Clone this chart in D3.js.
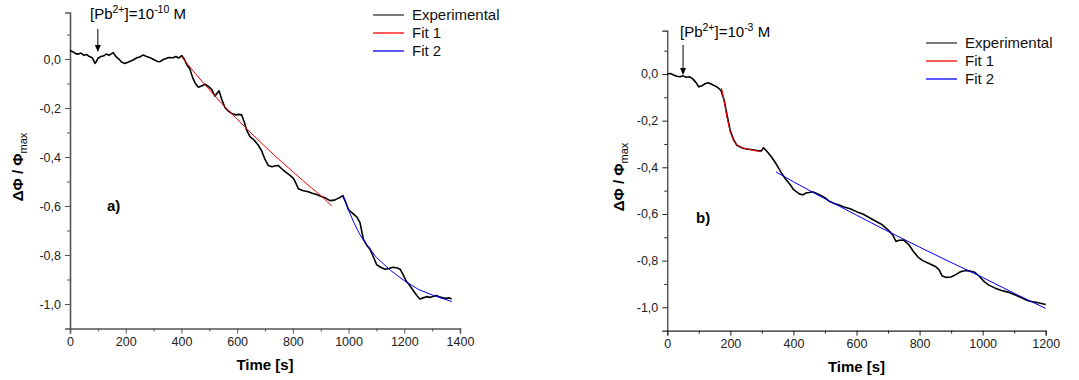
<!DOCTYPE html>
<html><head><meta charset="utf-8">
<script src="https://cdn.jsdelivr.net/npm/d3@7"></script>
<style>
body{margin:0;background:#fff;}
svg{display:block;font-family:"Liberation Sans",Arial,sans-serif;}
</style></head>
<body><svg id="c" width="1079" height="380"></svg>
<script>
// ---------- Panel a) data ----------
const expATime = [0,10,20,30,40,50,60,70,80,90,95,100,110,120,130,140,155,165,175,185,197,210,225,240,250,262,275,290,305,315,323,335,345,355,370,380,390,401,410,420,430,440,450,461,472,485,497,509,520,528,535,545,556,568,580,595,605,616,625,634,646,660,676,688,700,712,725,738,748,760,772,790,802,812,820,835,855,870,885,900,915,933,950,960,969,979,990,1000,1015,1030,1041,1053,1065,1077,1090,1101,1115,1131,1145,1160,1175,1185,1195,1206,1220,1232,1245,1256,1268,1280,1292,1305,1316,1328,1340,1352,1362,1370];
const expAValue = [0.035,0.03,0.022,0.02,0.024,0.015,0.018,0.01,0.005,-0.018,-0.01,0.002,0.01,0.012,0.02,0.015,0.026,0.01,0.0,-0.012,-0.018,-0.012,-0.005,0.005,0.008,0.016,0.01,0.004,-0.005,-0.01,-0.011,-0.002,0.002,0.006,0.005,0.01,0.004,0.014,0.0,-0.025,-0.04,-0.075,-0.1,-0.115,-0.11,-0.103,-0.112,-0.125,-0.152,-0.14,-0.13,-0.165,-0.198,-0.212,-0.222,-0.228,-0.226,-0.228,-0.255,-0.29,-0.317,-0.33,-0.352,-0.375,-0.41,-0.435,-0.44,-0.436,-0.435,-0.448,-0.46,-0.475,-0.487,-0.51,-0.53,-0.537,-0.542,-0.548,-0.553,-0.56,-0.566,-0.578,-0.576,-0.57,-0.565,-0.558,-0.585,-0.616,-0.63,-0.645,-0.668,-0.735,-0.76,-0.776,-0.81,-0.84,-0.85,-0.858,-0.855,-0.85,-0.853,-0.858,-0.878,-0.905,-0.925,-0.945,-0.965,-0.98,-0.975,-0.97,-0.973,-0.968,-0.965,-0.972,-0.975,-0.977,-0.975,-0.98];
const fit1ATime = [400,450,500,550,600,650,700,750,800,850,900,940];
const fit1AValue = [0.01,-0.06,-0.125,-0.188,-0.245,-0.303,-0.357,-0.41,-0.46,-0.51,-0.557,-0.6];
const fit2ATime = [980,1000,1020,1040,1060,1080,1100,1150,1200,1250,1300,1370];
const fit2AValue = [-0.555,-0.617,-0.67,-0.715,-0.75,-0.78,-0.81,-0.862,-0.905,-0.94,-0.963,-0.99];

// ---------- Panel b) data ----------
const expBTime = [0,10,20,30,40,50,60,70,80,90,100,110,120,130,140,150,160,170,180,190,200,210,220,230,240,255,270,285,298,305,315,330,345,360,375,390,400,410,420,430,440,450,460,470,485,500,515,530,545,560,580,600,620,640,660,680,700,715,725,735,750,765,780,795,810,830,850,862,872,885,900,915,930,945,960,975,990,1005,1020,1040,1060,1080,1100,1120,1140,1160,1180,1190,1200];
const expBValue = [0.0,0.002,-0.004,-0.01,-0.012,-0.008,-0.014,-0.012,-0.02,-0.035,-0.055,-0.05,-0.042,-0.038,-0.044,-0.05,-0.058,-0.07,-0.11,-0.18,-0.245,-0.28,-0.305,-0.312,-0.318,-0.322,-0.325,-0.328,-0.33,-0.316,-0.33,-0.355,-0.385,-0.42,-0.45,-0.475,-0.495,-0.505,-0.515,-0.518,-0.51,-0.508,-0.505,-0.51,-0.52,-0.53,-0.547,-0.555,-0.562,-0.57,-0.578,-0.59,-0.6,-0.615,-0.63,-0.645,-0.668,-0.69,-0.718,-0.713,-0.712,-0.73,-0.76,-0.785,-0.8,-0.812,-0.825,-0.84,-0.866,-0.872,-0.87,-0.86,-0.848,-0.842,-0.845,-0.85,-0.868,-0.89,-0.905,-0.918,-0.928,-0.935,-0.945,-0.957,-0.97,-0.977,-0.982,-0.985,-0.988];
const fit1BTime = [172,180,190,200,210,220,235,255,275,295];
const fit1BValue = [-0.06,-0.115,-0.19,-0.25,-0.285,-0.303,-0.315,-0.322,-0.328,-0.333];
const fit2BTime = [345,400,500,600,700,800,900,1000,1100,1200];
const fit2BValue = [-0.42,-0.462,-0.535,-0.605,-0.675,-0.742,-0.808,-0.872,-0.94,-1.005];

// ---------- Axis ticks / labels ----------
const xTicksA = [0,200,400,600,800,1000,1200,1400];
const xMinorA = [100,300,500,700,900,1100,1300];
const xTicksB = [0,200,400,600,800,1000,1200];
const xMinorB = [100,300,500,700,900,1100];
const yTicks = [-1.0,-0.8,-0.6,-0.4,-0.2,0.0];
const yMinor = [-0.9,-0.7,-0.5,-0.3,-0.1,0.1];
const legendLabels = ["Experimental","Fit 1","Fit 2"];
const seriesColors = ["#222222","#ff0000","#0000ff"];
const xTitle = "Time [s]";

const svg = d3.select("#c");
const fmt = v => (Math.abs(v) < 1e-9 ? 0 : v).toFixed(1).replace(".", ",");

function panel(o){
  const g = svg.append("g");
  const x = d3.scaleLinear().domain(o.xDomain).range(o.xRange);
  const y = d3.scaleLinear().domain(o.yDomain).range(o.yRange);
  const axisColor = o.axisColor;

  const xm = g.append("g").attr("transform",`translate(0,${o.yRange[0]})`)
    .call(d3.axisBottom(x).tickValues(o.xMinor).tickSize(3).tickFormat(""));
  const ym = g.append("g").attr("transform",`translate(${o.xRange[0]},0)`)
    .call(d3.axisLeft(y).tickValues(yMinor).tickSize(3).tickFormat(""));
  const xa = g.append("g").attr("transform",`translate(0,${o.yRange[0]})`)
    .call(d3.axisBottom(x).tickValues(o.xTicks).tickSize(5).tickPadding(4).tickFormat(d=>d3.format("d")(d)));
  const ya = g.append("g").attr("transform",`translate(${o.xRange[0]},0)`)
    .call(d3.axisLeft(y).tickValues(yTicks).tickSize(5).tickPadding(4).tickFormat(fmt));
  [xm,ym,xa,ya].forEach(a=>{
    a.select(".domain").attr("stroke",axisColor).attr("stroke-width",o.axisWidth);
    a.selectAll(".tick line").attr("stroke",axisColor).attr("stroke-width",1);
    a.selectAll("text").attr("font-size",12.5).attr("fill","#222")
      .attr("font-family","'Liberation Sans',Arial,sans-serif");
  });
  xm.select(".domain").remove(); ym.select(".domain").remove();

  const line = d3.line().x(d=>x(d[0])).y(d=>y(d[1]));
  const mk = (t,v)=>t.map((d,i)=>[d,v[i]]);
  g.append("path").attr("d",line(mk(o.expT,o.expV))).attr("fill","none")
    .attr("stroke","#000").attr("stroke-width",1.6).attr("stroke-linejoin","round");
  g.append("path").attr("d",line(mk(o.f1T,o.f1V))).attr("fill","none")
    .attr("stroke",seriesColors[1]).attr("stroke-width",1);
  g.append("path").attr("d",line(mk(o.f2T,o.f2V))).attr("fill","none")
    .attr("stroke",seriesColors[2]).attr("stroke-width",1);

  g.append("text").attr("x",(o.xRange[0]+o.xRange[1])/2).attr("y",o.xTitleY)
    .attr("text-anchor","middle").attr("font-size",15).attr("font-weight","bold").text(xTitle);
  const yl = g.append("text").attr("transform",`translate(${o.yTitleX},${o.yTitleY}) rotate(-90)`)
    .attr("text-anchor","middle").attr("font-size",15).attr("font-weight","bold");
  yl.append("tspan").text("ΔΦ / Φ");
  yl.append("tspan").attr("dy",4).attr("font-size",11).attr("font-weight","normal").text("max");

  g.append("text").attr("x",o.letterX).attr("y",o.letterY).attr("font-size",15)
    .attr("font-weight","bold").text(o.letter);

  const ann = g.append("text").attr("x",o.annX).attr("y",o.annY).attr("font-size",15);
  ann.append("tspan").text("[Pb");
  ann.append("tspan").attr("dy",-6).attr("font-size",10.5).text("2+");
  ann.append("tspan").attr("dy",6).text("]=10");
  ann.append("tspan").attr("dy",-6).attr("font-size",10.5).text(o.exponent);
  ann.append("tspan").attr("dy",6).text(" M");
  const ax = x(o.arrowT);
  g.append("line").attr("x1",ax).attr("x2",ax).attr("y1",o.arrowY1).attr("y2",o.arrowY2-5)
    .attr("stroke","#000").attr("stroke-width",1);
  g.append("path").attr("d",`M${ax-3},${o.arrowY2-7}L${ax+3},${o.arrowY2-7}L${ax},${o.arrowY2}Z`).attr("fill","#000");

  const lg = g.append("g");
  legendLabels.forEach((lab,i)=>{
    const yy = o.legY + i*o.legDy;
    lg.append("line").attr("x1",o.legX).attr("x2",o.legX+31).attr("y1",yy).attr("y2",yy)
      .attr("stroke",i===0?"#333":seriesColors[i]).attr("stroke-width",1.3);
    lg.append("text").attr("x",o.legX+39).attr("y",yy+5).attr("font-size",15).attr("fill","#111").text(lab);
  });
}

panel({
  xDomain:[0,1400], xRange:[70,460], yDomain:[-1.1,0.19], yRange:[328.5,12.45],
  xTicks:xTicksA, xMinor:xMinorA, axisColor:"#555", axisWidth:1.6,
  expT:expATime, expV:expAValue, f1T:fit1ATime, f1V:fit1AValue, f2T:fit2ATime, f2V:fit2AValue,
  xTitleY:370, yTitleX:23, yTitleY:167,
  letter:"a)", letterX:107, letterY:211,
  annX:90, annY:19, exponent:"-10", arrowT:100, arrowY1:29, arrowY2:52,
  legX:373, legY:15, legDy:18
});
panel({
  xDomain:[0,1200], xRange:[667.3,1045.7], yDomain:[-1.1,0.186], yRange:[330.6,30.6],
  xTicks:xTicksB, xMinor:xMinorB, axisColor:"#222", axisWidth:1.1,
  expT:expBTime, expV:expBValue, f1T:fit1BTime, f1V:fit1BValue, f2T:fit2BTime, f2V:fit2BValue,
  xTitleY:372, yTitleX:624, yTitleY:177,
  letter:"b)", letterX:696, letterY:223,
  annX:680, annY:37, exponent:"-3", arrowT:50, arrowY1:45, arrowY2:75,
  legX:926, legY:43, legDy:18
});
</script></body></html>
